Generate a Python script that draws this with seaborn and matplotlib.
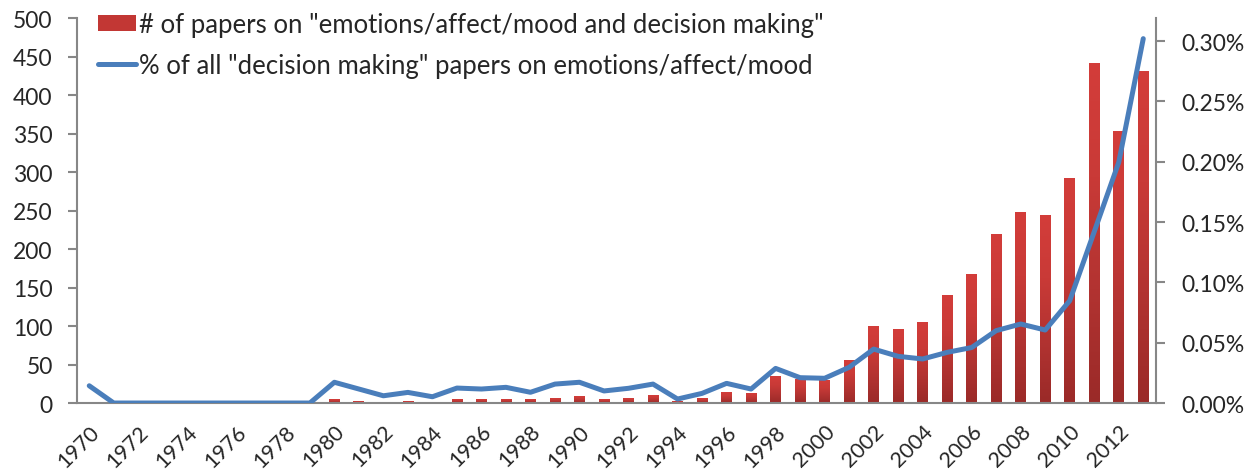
import numpy as np
import pandas as pd
import matplotlib.pyplot as plt
import matplotlib.transforms as mtransforms
import seaborn as sns
from matplotlib.patches import Patch
from matplotlib.lines import Line2D
from matplotlib.colors import LinearSegmentedColormap
from matplotlib.ticker import FuncFormatter, FixedLocator

# data
years = list(range(1970, 2014))
papers = [1, 0, 0, 0, 0, 0, 0, 0, 0, 0,
          4, 2, 0, 2, 0, 4, 4, 4, 4, 6,
          8, 4, 6, 10, 2, 6, 14, 12, 35, 30,
          29, 55, 99, 96, 105, 139, 167, 219, 248, 243,
          291, 441, 353, 431]
share_pct = [0.0143, 0, 0, 0, 0, 0, 0, 0, 0, 0,
             0.0172, 0.0116, 0.0060, 0.0088, 0.0052, 0.0124, 0.0116, 0.0130, 0.0089, 0.0157,
             0.0172, 0.0100, 0.0122, 0.0157, 0.0033, 0.0080, 0.0163, 0.0116, 0.0287, 0.0210,
             0.0205, 0.0296, 0.0447, 0.0387, 0.0365, 0.0420, 0.0460, 0.0600, 0.0655, 0.0605,
             0.0848, 0.1420, 0.1995, 0.3020]

bar_label = '# of papers on "emotions/affect/mood and decision making"'
line_label = '% of all "decision making" papers on emotions/affect/mood'

df = pd.DataFrame({'Year': [str(y) for y in years], 'Papers': papers, 'Share': share_pct})
df['pos'] = np.arange(len(df))

sns.set_style('white')
plt.rcParams['font.family'] = ['Lato', 'DejaVu Sans']
grey = '#878787'
fs = 16.5

fig = plt.figure(figsize=(12.56, 4.77), dpi=100)
ax = fig.add_axes([0.0613, 0.153, 0.8587, 0.807])

sns.barplot(data=df, x='Year', y='Papers', color='#c0392b', width=0.44, ax=ax, zorder=2)

# Excel-like vertical gradient on each bar
cmap = LinearSegmentedColormap.from_list('bars', ['#9a2a28', '#b23331', '#c93a37', '#d33d3a'])
grad = np.linspace(0, 1, 256).reshape(-1, 1)
for p in list(ax.patches):
    h = p.get_height()
    if h <= 0:
        continue
    x0 = p.get_x()
    ax.imshow(grad, extent=[x0, x0 + p.get_width(), 0, h], origin='lower',
              aspect='auto', cmap=cmap, zorder=2)
    p.set_visible(False)

ax.set_xlim(-0.5, len(years) - 0.5)
ax.set_ylim(0, 500)
ax.set_yticks(range(0, 501, 50))

ax2 = ax.twinx()
sns.lineplot(data=df, x='pos', y='Share', color='#4a7ebb', linewidth=3.6, ax=ax2,
             solid_capstyle='round', solid_joinstyle='round')
ax2.set_ylim(0, 0.30 * 385 / 362)
ax2.set_yticks([0, 0.05, 0.10, 0.15, 0.20, 0.25, 0.30])
ax2.yaxis.set_major_formatter(FuncFormatter(lambda v, _: f'{v:.2f}%'))
ax2.set_xlim(-0.5, len(years) - 0.5)

for a in (ax, ax2):
    a.set_xlabel('')
    a.set_ylabel('')
    a.spines['top'].set_visible(False)
    for s in a.spines.values():
        s.set_color(grey)
        s.set_linewidth(1.5)

ax.spines['right'].set_visible(False)
ax2.spines['left'].set_visible(False)
ax2.spines['bottom'].set_visible(False)

# x axis: tick marks between categories, labels every other year
ax.xaxis.set_major_locator(FixedLocator(np.arange(0, len(years), 2)))
ax.set_xticklabels([str(y) for y in years[::2]], rotation=45, ha='right', va='top',
                   rotation_mode='anchor', fontsize=15.5)
shift = mtransforms.ScaledTranslation(-2 / 100, 0, fig.dpi_scale_trans)
for lbl in ax.get_xticklabels():
    lbl.set_transform(lbl.get_transform() + shift)
ax.xaxis.set_minor_locator(FixedLocator(np.arange(-0.5, len(years), 1)))
ax.tick_params(axis='x', which='major', length=0, pad=13)
ax.tick_params(axis='x', which='minor', length=6.5, width=1.5, color=grey, direction='out')
ax.tick_params(axis='y', length=6.5, width=1.5, color=grey, direction='out', labelsize=fs, pad=11)
ax2.tick_params(axis='y', length=6.5, width=1.5, color=grey, direction='out', labelsize=fs, pad=12)

handles = [Patch(facecolor='#c23734', edgecolor='none'),
           Line2D([0], [0], color='#4a7ebb', linewidth=3.6)]
fig.legend(handles, [bar_label, line_label], loc='upper left',
           bbox_to_anchor=(0.062, 1.016), frameon=False, fontsize=18.5,
           handlelength=1.45, handleheight=0.55, handletextpad=0.12,
           labelspacing=0.62, borderpad=0.3)

fig.savefig('out.png', dpi=100)
